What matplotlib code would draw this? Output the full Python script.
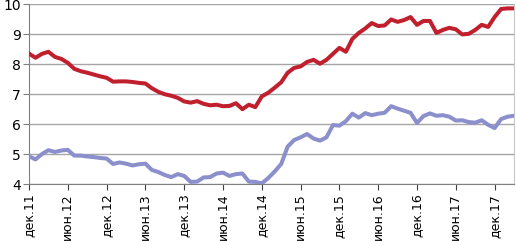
import numpy as np
from matplotlib import pyplot as plt

red = [8.36, 8.22, 8.35, 8.42, 8.25, 8.18, 8.05, 7.85, 7.77, 7.72,
       7.66, 7.60, 7.55, 7.42, 7.43, 7.43, 7.41, 7.38, 7.36, 7.20,
       7.08, 7.00, 6.95, 6.88, 6.76, 6.72, 6.77, 6.68, 6.63, 6.65,
       6.60, 6.61, 6.70, 6.50, 6.65, 6.57, 6.93, 7.05, 7.22, 7.40,
       7.72, 7.88, 7.93, 8.08, 8.15, 8.02, 8.15, 8.35, 8.55, 8.42,
       8.85, 9.05, 9.20, 9.38, 9.28, 9.30, 9.50, 9.42, 9.48, 9.58,
       9.32, 9.45, 9.45, 9.05, 9.15, 9.22, 9.17, 9.00, 9.02, 9.15,
       9.32, 9.25, 9.58, 9.85, 9.87, 9.87]

blue = [4.93, 4.82, 5.00, 5.13, 5.07, 5.12, 5.14, 4.95, 4.95, 4.92,
        4.90, 4.87, 4.85, 4.67, 4.72, 4.68, 4.62, 4.66, 4.68, 4.47,
        4.40, 4.30, 4.23, 4.33, 4.27, 4.07, 4.08, 4.22, 4.23, 4.35,
        4.38, 4.27, 4.33, 4.35, 4.08, 4.07, 4.02, 4.20, 4.42, 4.67,
        5.25, 5.47, 5.56, 5.67, 5.52, 5.45, 5.56, 5.97, 5.95, 6.10,
        6.35, 6.22, 6.37, 6.30, 6.35, 6.38, 6.60, 6.52, 6.45, 6.38,
        6.04, 6.27, 6.36, 6.28, 6.30, 6.25, 6.12, 6.13, 6.07, 6.05,
        6.13, 5.98, 5.87, 6.17, 6.25, 6.28]

tick_labels = ['дек.11', 'июн.12', 'дек.12', 'июн.13', 'дек.13', 'июн.14',
               'дек.14', 'июн.15', 'дек.15', 'июн.16', 'дек.16', 'июн.17',
               'дек.17']

x = np.arange(len(red))

fig = plt.figure(figsize=(5.16, 2.41), dpi=100)
ax = fig.add_axes([29/516, 57/241, 485/516, 179.5/241])

ax.plot(x, blue, color='#8B8FCB', lw=2.9, solid_joinstyle='round', zorder=3)
ax.plot(x, red, color='#C01F2E', lw=2.9, solid_joinstyle='round', zorder=3)

ax.set_xlim(0, len(red) - 1)
ax.set_ylim(4, 10)
ax.set_yticks(range(4, 11))
ax.set_xticks(np.arange(0, len(red), 6))
ax.set_xticklabels(tick_labels, rotation=90, fontsize=9)
ax.tick_params(axis='y', labelsize=10, length=4, color='#808080', pad=2)
ax.tick_params(axis='x', length=4, color='#404040', pad=3)
ax.grid(axis='y', color='#A6A6A6', lw=1.0)
ax.set_axisbelow(True)

ax.spines['top'].set_visible(False)
ax.spines['left'].set_color('#808080')
ax.spines['bottom'].set_color('#808080')
ax.spines['right'].set_color('#C8C8C8')

fig.savefig('out.png', dpi=100)
